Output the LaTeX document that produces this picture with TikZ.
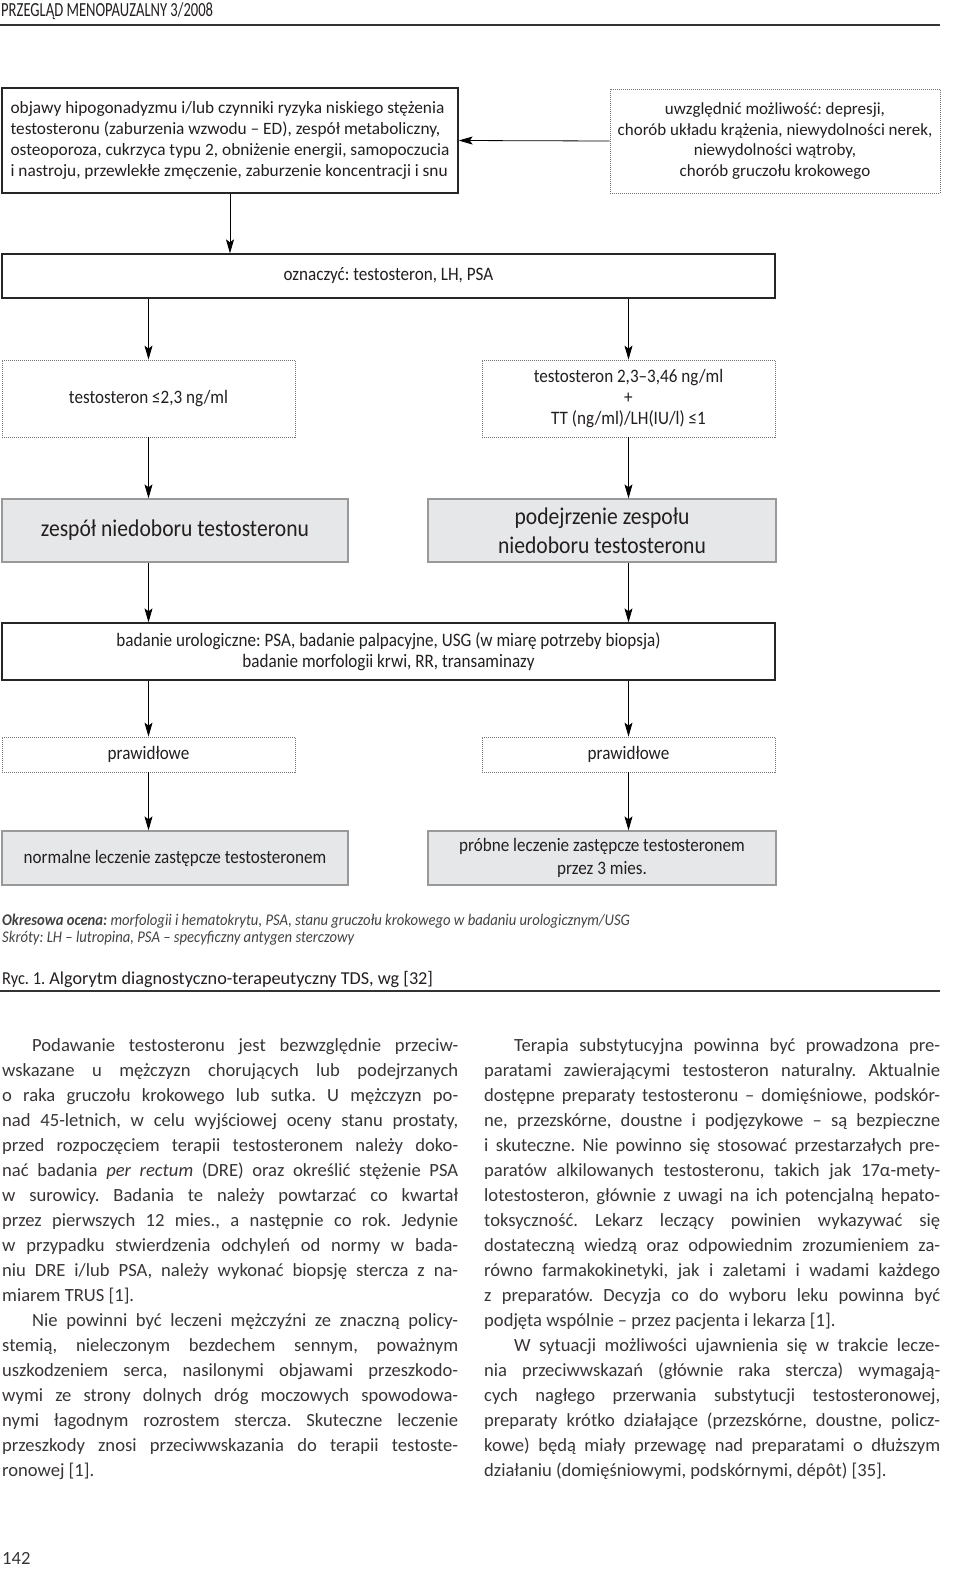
\documentclass[tikz,border=0pt]{standalone}
\usepackage{fontspec}
\setmainfont{Carlito}
\newfontfamily\cond[FakeStretch=0.9]{Carlito}
\newfontfamily\headf[FakeStretch=0.73]{Carlito}
\usetikzlibrary{arrows.meta}
\definecolor{boxgray}{HTML}{E6E7E8}
\definecolor{txt}{HTML}{231F20}
\newcommand\JL[1]{\hbox to 456pt{#1}}
\newcommand\LL[1]{\hbox{#1}}
\newcommand\IN{\hspace*{30pt}}
\frenchspacing
\begin{document}
\frenchspacing
\begin{tikzpicture}[x=1pt,y=-1pt,
  solidbox/.style={draw=black!85, line width=1.3pt, fill=white, inner sep=0pt, text=txt},
  dotbox/.style={draw=black!55, dash pattern=on 1pt off 1pt, line width=0.8pt, inner sep=0pt, text=txt},
  graybox/.style={draw=black!40, line width=1.3pt, fill=boxgray, inner sep=0pt, text=txt},
  arr/.style={-{Stealth[length=14pt,width=8pt,inset=3pt]}, line width=0.8pt, black},
  rulestyle/.style={line width=1.2pt, black!80},
  boxtext/.style={font=\fontsize{17.3}{21.3}\selectfont},
  condtext/.style={font=\cond\fontsize{19}{20.8}\selectfont},
  bigtext/.style={font=\cond\fontsize{24}{29}\selectfont},
  bodytext/.style={font=\fontsize{18.6}{25}\selectfont, text=txt!90, inner sep=0pt, anchor=base west}]
\useasboundingbox (0,0) rectangle (960,1596);
\fill[white] (0,0) rectangle (960,1596);

% header
\node[anchor=base west, inner sep=0pt, text=txt, font=\headf\fontsize{20}{20}\selectfont] (hdr) at (1,16) {PRZEGLĄD MENOPAUZALNY 3/2008};
\coordinate (hrl) at (0,25);
\coordinate (hrr) at (940,25);
\draw[rulestyle] (hrl) -- (hrr);

% boxes
\node[solidbox, boxtext, minimum width=456pt, minimum height=105pt, align=left] (b1) at (230,140.5)
 {objawy hipogonadyzmu i/lub czynniki ryzyka niskiego stężenia\\
  testosteronu (zaburzenia wzwodu – ED), zespół metaboliczny,\\
  osteoporoza, cukrzyca typu 2, obniżenie energii, samopoczucia\\
  i nastroju, przewlekłe zmęczenie, zaburzenie koncentracji i snu};
\node[dotbox, boxtext, font=\fontsize{17}{20.7}\selectfont, minimum width=330pt, minimum height=104pt, align=center] (b2) at (775,141)
 {uwzględnić możliwość: depresji,\\
  chorób układu krążenia, niewydolności nerek,\\
  niewydolności wątroby,\\
  chorób gruczołu krokowego};
\node[solidbox, condtext, minimum width=773pt, minimum height=44pt, align=center] (b3) at (388.5,276)
 {oznaczyć: testosteron, LH, PSA};
\node[dotbox, condtext, minimum width=293pt, minimum height=77pt, align=center] (b4) at (148.5,398.5)
 {testosteron ≤2,3 ng/ml};
\node[dotbox, condtext, minimum width=293pt, minimum height=77pt, align=center] (b5) at (628.5,398.5)
 {testosteron 2,3–3,46 ng/ml\\ +\\ TT (ng/ml)/LH(IU/l) ≤1};
\node[graybox, bigtext, minimum width=346pt, minimum height=63pt, align=center] (b6) at (175,530.5)
 {zespół niedoboru testosteronu};
\node[graybox, bigtext, minimum width=348pt, minimum height=63pt, align=center] (b7) at (602,530.5)
 {podejrzenie zespołu\\ niedoboru testosteronu};
\node[solidbox, condtext, minimum width=773pt, minimum height=57pt, align=center] (b8) at (388.5,651.5)
 {badanie urologiczne: PSA, badanie palpacyjne, USG (w miarę potrzeby biopsja)\\
  badanie morfologii krwi, RR, transaminazy};
\node[dotbox, condtext, minimum width=293pt, minimum height=35pt, align=center] (b9) at (148.5,754.5)
 {prawidłowe};
\node[dotbox, condtext, minimum width=293pt, minimum height=35pt, align=center] (b10) at (628.5,754.5)
 {prawidłowe};
\node[graybox, condtext, minimum width=346pt, minimum height=54pt, align=center] (b11) at (175,858)
 {normalne leczenie zastępcze testosteronem};
\node[graybox, condtext, font=\cond\fontsize{19}{23}\selectfont, minimum width=348pt, minimum height=54pt, align=center] (b12) at (602,858)
 {próbne leczenie zastępcze testosteronem\\ przez 3 mies.};

% connectors
\draw[arr] (b2.west) -- (b1.east);
\draw[arr] (b1.south) -- (b1.south |- b3.north);
\draw[arr] (b4.north |- b3.south) -- (b4.north);
\draw[arr] (b5.north |- b3.south) -- (b5.north);
\draw[arr] (b4.south) -- (b4.south |- b6.north);
\draw[arr] (b5.south) -- (b5.south |- b7.north);
\draw[arr] (b4 |- b6.south) -- (b4 |- b8.north);
\draw[arr] (b5 |- b7.south) -- (b5 |- b8.north);
\draw[arr] (b9.north |- b8.south) -- (b9.north);
\draw[arr] (b10.north |- b8.south) -- (b10.north);
\draw[arr] (b9.south) -- (b9.south |- b11.north);
\draw[arr] (b10.south) -- (b10.south |- b12.north);

% notes
\node[anchor=base west, inner sep=0pt, text=txt!85, font=\cond\itshape\fontsize{16.3}{16.3}\selectfont] (fn1) at (2,925)
 {\textbf{Okresowa ocena:} morfologii i hematokrytu, PSA, stanu gruczołu krokowego w badaniu urologicznym/USG};
\node[anchor=base west, inner sep=0pt, text=txt!85, font=\cond\itshape\fontsize{16.3}{16.3}\selectfont] (fn2) at (2,942)
 {Skróty: LH – lutropina, PSA – specyficzny antygen sterczowy};
\node[anchor=base west, inner sep=0pt, text=txt, font=\fontsize{18.2}{18.2}\selectfont] (cap) at (2,984)
 {{\cond Ryc. 1.} Algorytm diagnostyczno-terapeutyczny TDS, wg [32]};
\coordinate (crl) at (0,991);
\coordinate (crr) at (940,991);
\draw[rulestyle] (crl) -- (crr);

% body text
\node[bodytext] (colL) at (2,1051) {\parbox[t]{456pt}{%
\JL{\IN Podawanie testosteronu jest bezwzględnie przeciw-}
\JL{wskazane u mężczyzn chorujących lub podejrzanych}
\JL{o raka gruczołu krokowego lub sutka. U mężczyzn po-}
\JL{nad 45-letnich, w celu wyjściowej oceny stanu prostaty,}
\JL{przed rozpoczęciem terapii testosteronem należy doko-}
\JL{nać badania \textit{per rectum} (DRE) oraz określić stężenie PSA}
\JL{w surowicy. Badania te należy powtarzać co kwartał}
\JL{przez pierwszych 12 mies., a następnie co rok. Jedynie}
\JL{w przypadku stwierdzenia odchyleń od normy w bada-}
\JL{niu DRE i/lub PSA, należy wykonać biopsję stercza z na-}
\LL{miarem TRUS [1].}
\JL{\IN Nie powinni być leczeni mężczyźni ze znaczną policy-}
\JL{stemią, nieleczonym bezdechem sennym, poważnym}
\JL{uszkodzeniem serca, nasilonymi objawami przeszkodo-}
\JL{wymi ze strony dolnych dróg moczowych spowodowa-}
\JL{nymi łagodnym rozrostem stercza. Skuteczne leczenie}
\JL{przeszkody znosi przeciwwskazania do terapii testoste-}
\LL{ronowej [1].}}};
\node[bodytext] (colR) at (484,1051) {\parbox[t]{456pt}{%
\JL{\IN Terapia substytucyjna powinna być prowadzona pre-}
\JL{paratami zawierającymi testosteron naturalny. Aktualnie}
\JL{dostępne preparaty testosteronu – domięśniowe, podskór-}
\JL{ne, przezskórne, doustne i podjęzykowe – są bezpieczne}
\JL{i skuteczne. Nie powinno się stosować przestarzałych pre-}
\JL{paratów alkilowanych testosteronu, takich jak 17α-mety-}
\JL{lotestosteron, głównie z uwagi na ich potencjalną hepato-}
\JL{toksyczność. Lekarz leczący powinien wykazywać się}
\JL{dostateczną wiedzą oraz odpowiednim zrozumieniem za-}
\JL{równo farmakokinetyki, jak i zaletami i wadami każdego}
\JL{z preparatów. Decyzja co do wyboru leku powinna być}
\LL{podjęta wspólnie – przez pacjenta i lekarza [1].}
\JL{\IN W sytuacji możliwości ujawnienia się w trakcie lecze-}
\JL{nia przeciwwskazań (głównie raka stercza) wymagają-}
\JL{cych nagłego przerwania substytucji testosteronowej,}
\JL{preparaty krótko działające (przezskórne, doustne, policz-}
\JL{kowe) będą miały przewagę nad preparatami o dłuższym}
\LL{działaniu (domięśniowymi, podskórnymi, dépôt) [35].}}};

\node[anchor=base west, inner sep=0pt, text=txt!90, font=\fontsize{18.6}{18.6}\selectfont] (pg) at (2,1564) {142};
\end{tikzpicture}
\end{document}
